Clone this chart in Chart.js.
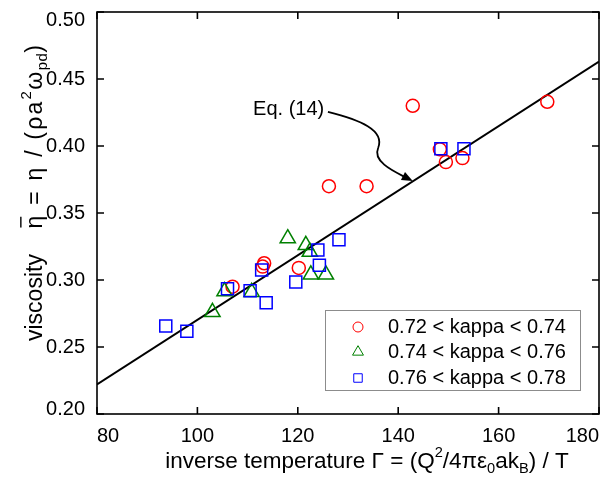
<!DOCTYPE html>
<html>
<head>
<meta charset="utf-8">
<script src="https://cdn.jsdelivr.net/npm/chart.js@4.4.1/dist/chart.umd.min.js"></script>
<style>
  html, body { margin: 0; padding: 0; background: #fff; }
  canvas { display: block; }
</style>
</head>
<body>
<canvas id="viscChart" width="601" height="479"></canvas>
<script>
const FONT = '"Liberation Sans", Arial, sans-serif';

// 0.72 < kappa < 0.74
const gammaRed = [107.0, 113.0, 113.3, 120.2, 126.2, 133.7, 142.9, 148.3, 149.5, 152.8, 169.7];
const etaRed   = [0.295, 0.310, 0.3125, 0.309, 0.370, 0.370, 0.430, 0.3975, 0.388, 0.391, 0.433];
// 0.74 < kappa < 0.76
const gammaGreen = [103.0, 105.4, 110.8, 118.0, 121.6, 122.4, 122.6, 125.6];
const etaGreen   = [0.276, 0.2915, 0.291, 0.331, 0.326, 0.321, 0.304, 0.304];
// 0.76 < kappa < 0.78
const gammaBlue = [93.7, 97.9, 106.0, 110.5, 112.8, 113.7, 119.6, 124.0, 124.3, 128.2, 148.5, 153.1];
const etaBlue   = [0.2657, 0.2617, 0.2935, 0.292, 0.3075, 0.283, 0.2985, 0.3224, 0.311, 0.330, 0.398, 0.398];
// Eq. (14)
const gammaFit = [80, 180];
const etaFit   = [0.222, 0.463];

const xTicks = [80, 100, 120, 140, 160, 180];
const yTicks = [0.20, 0.25, 0.30, 0.35, 0.40, 0.45, 0.50];
const legendLabels = ['0.72 < kappa < 0.74', '0.74 < kappa < 0.76', '0.76 < kappa < 0.78'];

// annotation "Eq. (14)" and its curved arrow, in data units
const eqNote = { text: 'Eq. (14)', x: 111.1, y: 0.4231 };
const arrowPath = [[126.0, 0.4254], [132.4, 0.4194], [137.4, 0.4119], [136.0, 0.3985],
                   [134.8, 0.3881], [139.4, 0.3806], [142.9, 0.3739]];

// sp = extra spacing after each character
const yTitle = [
  { t: 'viscosity' }, { t: '    ' }, { t: 'η', bar: true, sp: 2.5 }, { t: ' = η / (ρa', sp: 2.2 },
  { t: '2', s: 'sup', sp: 1.5 }, { t: 'ω', sp: 1.5 }, { t: 'pd', s: 'sub', sp: 0.5 }, { t: ')' }
];
const xTitle = [
  { t: 'inverse temperature Γ = (Q' }, { t: '2', s: 'sup' }, { t: '/4πε' },
  { t: '0', s: 'sub' }, { t: 'ak' }, { t: 'B', s: 'sub' }, { t: ') / T' }
];

function toPts(xs, ys) {
  return xs.map((x, i) => ({ x: x, y: ys[i] }));
}

function partSize(p, size) {
  return p.s ? size * 0.65 : size;
}

function partWidth(ctx, p) {
  return ctx.measureText(p.t).width + (p.sp || 0) * p.t.length;
}

function drawRich(ctx, parts, size, cx, base) {
  let w = 0;
  parts.forEach(p => {
    ctx.font = partSize(p, size) + 'px ' + FONT;
    w += partWidth(ctx, p);
  });
  let x = cx - w / 2;
  ctx.textAlign = 'left';
  ctx.textBaseline = 'alphabetic';
  parts.forEach(p => {
    ctx.font = partSize(p, size) + 'px ' + FONT;
    const dy = p.s === 'sup' ? -size * 0.5 : (p.s === 'sub' ? size * 0.22 : 0);
    let cx2 = x;
    for (const ch of p.t) {
      ctx.fillText(ch, cx2, base + dy);
      const cw = ctx.measureText(ch).width;
      if (p.bar) ctx.fillRect(cx2 + 1, base - size * 0.95, cw - 2, 1.4);
      cx2 += cw + (p.sp || 0);
    }
    x += partWidth(ctx, p);
  });
}

const seriesStyle = [
  { color: '#ff0000', style: 'circle', r: 6.5, lr: 5 },
  { color: '#008000', style: 'triangle', r: 8.8, lr: 6.3 },
  { color: '#0000ff', style: 'rect', r: 8.5, lr: 6 }
];

const decorPlugin = {
  id: 'decor',
  beforeDraw(chart) {
    // first and last y labels sit a little inside the box
    const items = chart.scales.y.getLabelItems();
    if (items.length && !items._nudged) {
      items[0].options.translation[1] -= 5;
      items[items.length - 1].options.translation[1] += 8;
      items._nudged = true;
    }
  },
  afterDraw(chart) {
    const ctx = chart.ctx;
    const a = chart.chartArea;
    const xs = chart.scales.x, ys = chart.scales.y;
    ctx.save();

    // box and inward ticks
    ctx.strokeStyle = '#000';
    ctx.lineWidth = 1.6;
    ctx.strokeRect(a.left, a.top, a.right - a.left, a.bottom - a.top);
    ctx.beginPath();
    xTicks.forEach(v => {
      const px = xs.getPixelForValue(v);
      ctx.moveTo(px, a.bottom); ctx.lineTo(px, a.bottom - 7);
      ctx.moveTo(px, a.top); ctx.lineTo(px, a.top + 7);
    });
    yTicks.forEach(v => {
      const py = ys.getPixelForValue(v);
      ctx.moveTo(a.left, py); ctx.lineTo(a.left + 7, py);
      ctx.moveTo(a.right, py); ctx.lineTo(a.right - 7, py);
    });
    ctx.stroke();

    // axis titles
    ctx.fillStyle = '#000';
    drawRich(ctx, xTitle, 22.5, 367, 468);
    ctx.save();
    ctx.translate(42, 193);
    ctx.rotate(-Math.PI / 2);
    drawRich(ctx, yTitle, 23, 0, 0);
    ctx.restore();

    // Eq. (14) note with curved arrow
    ctx.font = '20px ' + FONT;
    ctx.textAlign = 'left';
    ctx.textBaseline = 'alphabetic';
    ctx.fillText(eqNote.text, xs.getPixelForValue(eqNote.x), ys.getPixelForValue(eqNote.y));
    const p = arrowPath.map(q => [xs.getPixelForValue(q[0]), ys.getPixelForValue(q[1])]);
    ctx.lineWidth = 1.8;
    ctx.beginPath();
    ctx.moveTo(p[0][0], p[0][1]);
    ctx.bezierCurveTo(p[1][0], p[1][1], p[2][0], p[2][1], p[3][0], p[3][1]);
    ctx.bezierCurveTo(p[4][0], p[4][1], p[5][0], p[5][1], p[6][0] - 6, p[6][1] - 3);
    ctx.stroke();
    const ang = Math.atan2(p[6][1] - p[5][1], p[6][0] - p[5][0]);
    ctx.beginPath();
    ctx.moveTo(p[6][0], p[6][1]);
    ctx.lineTo(p[6][0] - 11 * Math.cos(ang) + 4.5 * Math.sin(ang), p[6][1] - 11 * Math.sin(ang) - 4.5 * Math.cos(ang));
    ctx.lineTo(p[6][0] - 11 * Math.cos(ang) - 4.5 * Math.sin(ang), p[6][1] - 11 * Math.sin(ang) + 4.5 * Math.cos(ang));
    ctx.closePath();
    ctx.fill();

    // legend box
    const lx = a.right - 274, ly = a.bottom - 104;
    ctx.fillStyle = '#fff';
    ctx.fillRect(lx, ly, 255, 80);
    ctx.strokeStyle = '#8c8c8c';
    ctx.lineWidth = 1;
    ctx.strokeRect(lx + 0.5, ly + 0.5, 255, 80);
    const rows = [17, 42, 68];
    legendLabels.forEach((lab, i) => {
      const st = seriesStyle[i];
      ctx.strokeStyle = st.color;
      ctx.fillStyle = 'rgba(0,0,0,0)';
      Chart.helpers.drawPoint(ctx, { pointStyle: st.style, radius: st.lr, borderWidth: 1.5, rotation: 0 }, lx + 33, ly + rows[i]);
      ctx.fillStyle = '#000';
      ctx.font = '20px ' + FONT;
      ctx.textAlign = 'left';
      ctx.textBaseline = 'middle';
      ctx.fillText(lab, lx + 63, ly + rows[i]);
    });
    ctx.restore();
  }
};

function scatterSet(i, xs, ys) {
  const st = seriesStyle[i];
  return {
    label: legendLabels[i],
    data: toPts(xs, ys),
    pointStyle: st.style,
    pointRadius: st.r,
    pointBorderWidth: 1.5,
    borderColor: st.color,
    backgroundColor: 'rgba(0,0,0,0)',
    order: 3 - i
  };
}

const tickFont = { family: FONT, size: 20 };

new Chart(document.getElementById('viscChart'), {
  type: 'scatter',
  data: {
    datasets: [
      scatterSet(0, gammaRed, etaRed),
      scatterSet(1, gammaGreen, etaGreen),
      scatterSet(2, gammaBlue, etaBlue),
      {
        type: 'line',
        label: 'Eq. (14)',
        data: toPts(gammaFit, etaFit),
        showLine: true,
        borderColor: '#000',
        borderWidth: 2,
        pointRadius: 0,
        order: 4
      }
    ]
  },
  options: {
    responsive: false,
    animation: false,
    devicePixelRatio: 1,
    events: [],
    layout: { autoPadding: false, padding: { top: 12, right: 2, left: 0, bottom: 0 } },
    plugins: { legend: { display: false }, tooltip: { enabled: false } },
    scales: {
      x: {
        type: 'linear',
        min: 80,
        max: 180,
        afterBuildTicks: s => { s.ticks = xTicks.map(v => ({ value: v })); },
        afterFit: s => { s.height = 65; s.paddingLeft = 0; s.paddingRight = 0; },
        grid: { display: false, drawTicks: false },
        border: { display: false },
        ticks: { align: 'inner', padding: 10, color: '#000', font: tickFont, maxRotation: 0, autoSkip: false }
      },
      y: {
        type: 'linear',
        min: 0.2,
        max: 0.5,
        afterBuildTicks: s => { s.ticks = yTicks.map(v => ({ value: v })); },
        afterFit: s => { s.width = 97; s.paddingTop = 0; s.paddingBottom = 0; },
        grid: { display: false, drawTicks: false },
        border: { display: false },
        ticks: { padding: 12, color: '#000', font: tickFont, autoSkip: false, callback: v => v.toFixed(2) }
      }
    }
  },
  plugins: [decorPlugin]
});
</script>
</body>
</html>
